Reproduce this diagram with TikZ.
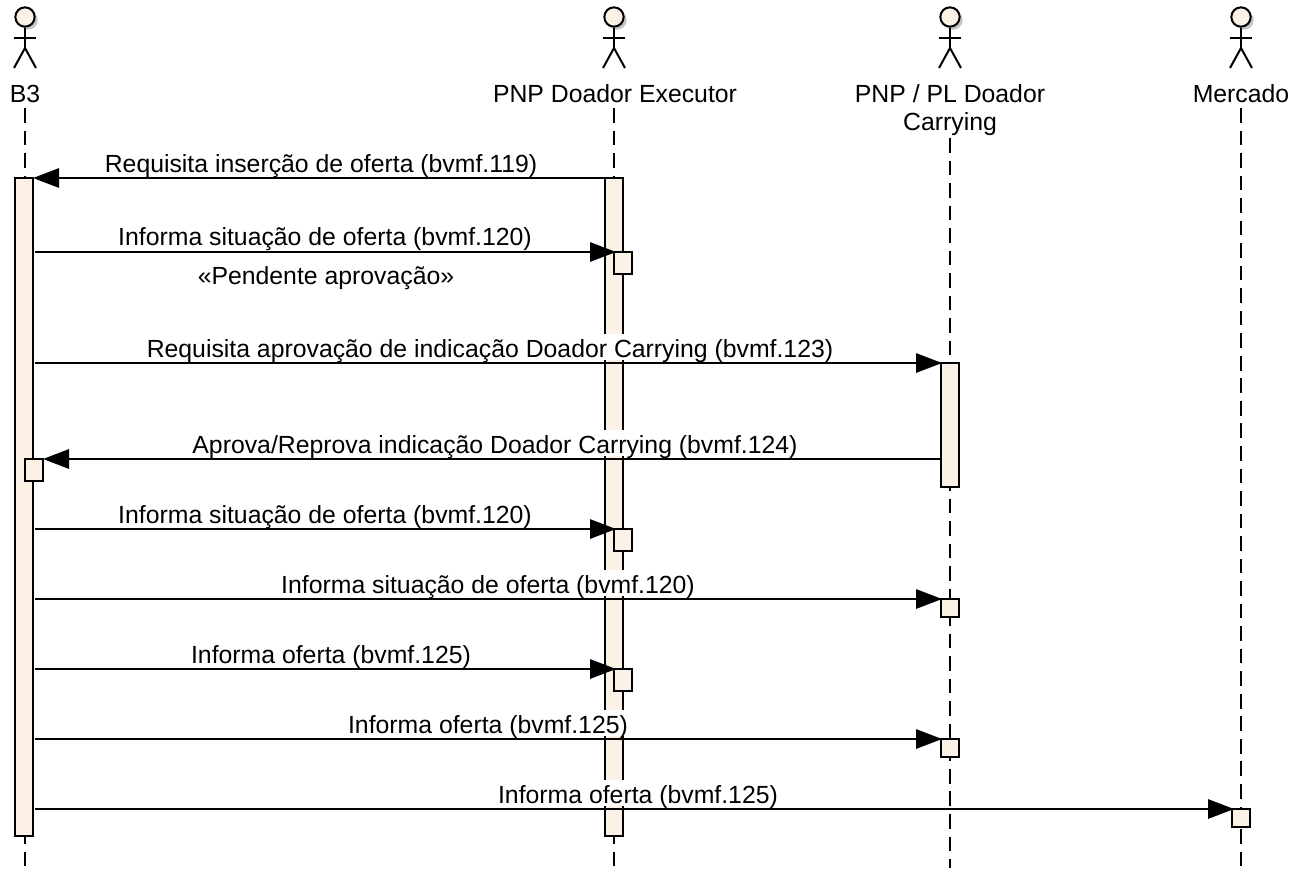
\documentclass[tikz,border=0pt]{standalone}
\usepackage{fontspec}
\setmainfont{Liberation Sans}
\usetikzlibrary{arrows.meta}
\definecolor{cream}{HTML}{FBF2E5}
\definecolor{shade}{HTML}{C4C4C4}
\tikzset{
  x=0.75pt,y=-0.75pt,
  every node/.style={font=\fontsize{18.6pt}{24pt}\selectfont,text=black},
  life/.style={line width=1.5pt,dash pattern=on 11pt off 5.9pt},
  bar/.style={draw=black,fill=cream,line width=1.5pt},
  msg/.style={line width=1.5pt,-{Triangle[length=19.5pt,width=14.5pt]}},
  lbl/.style={anchor=base,fill=white,inner xsep=0.5pt,inner ysep=0pt,text height=17pt,text depth=2.2pt},
  actorlbl/.style={anchor=base,inner sep=0pt},
  head/.style={circle,draw=black,fill=cream,line width=1.5pt,minimum size=14.5pt,inner sep=0pt},
  limb/.style={line width=1.5pt,draw=black},
  headshade/.style={circle,fill=shade,minimum size=14.5pt,inner sep=0pt},
}
\newcommand{\actor}[2]{%
  \node[headshade] (#2shade) at (#1+3,20) {};
  \node[head] (#2head) at (#1,17) {};
  \coordinate (#2hip) at (#1,48);
  \coordinate (#2al) at (#1-11,38);
  \coordinate (#2ar) at (#1+11,38);
  \coordinate (#2ll) at (#1-11,68);
  \coordinate (#2lr) at (#1+11,68);
  \draw[limb] (#2head) -- (#2hip);
  \draw[limb] (#2al) -- (#2ar);
  \draw[limb] (#2ll) -- (#2hip) -- (#2lr);
}
\begin{document}
\begin{tikzpicture}
\useasboundingbox (0,0) rectangle (1293,868);
\fill[white] (0,0) rectangle (1293,868);

% lifelines
\coordinate (ta) at (25,108);   \coordinate (ba) at (25,868);
\coordinate (tb) at (614,108);  \coordinate (bb) at (614,868);
\coordinate (tc) at (950,138);  \coordinate (bc) at (950,868);
\coordinate (td) at (1241,108); \coordinate (bd) at (1241,868);
\draw[life] (ta) -- (ba);
\draw[life] (tb) -- (bb);
\draw[life] (tc) -- (bc);
\draw[life] (td) -- (bd);

% actors
\actor{25}{a}
\actor{614}{b}
\actor{950}{c}
\actor{1241}{d}
\node[actorlbl] (la) at (25,102) {B3};
\node[actorlbl] (lb) at (615,102) {PNP Doador Executor};
\node[actorlbl] (lc1) at (950,102) {PNP / PL Doador};
\node[actorlbl] (lc2) at (950,130) {Carrying};
\node[actorlbl] (ld) at (1241,102) {Mercado};

% activation bars
\draw[bar] (15,178) rectangle (33,836);
\draw[bar] (605,178) rectangle (623,836);
\draw[bar] (941,363) rectangle (959,487);
\draw[bar] (25,459) rectangle (43,481);
\draw[bar] (614,252) rectangle (632,274);
\draw[bar] (614,529) rectangle (632,551);
\draw[bar] (614,669) rectangle (632,691);
\draw[bar] (941,599) rectangle (959,617);
\draw[bar] (941,739) rectangle (959,757);
\draw[bar] (1232,809) rectangle (1250,827);

% labels
\node[lbl] (m1) at (321,172) {Requisita inserção de oferta (bvmf.119)};
\node[lbl] (m2) at (325,245) {Informa situação de oferta (bvmf.120)};
\node[lbl] (m2s) at (326,284) {«Pendente aprovação»};
\node[lbl] (m3) at (490,357) {Requisita aprovação de indicação Doador Carrying (bvmf.123)};
\node[lbl] (m4) at (495,453) {Aprova/Reprova indicação Doador Carrying (bvmf.124)};
\node[lbl] (m5) at (325,523) {Informa situação de oferta (bvmf.120)};
\node[lbl] (m6) at (488,593) {Informa situação de oferta (bvmf.120)};
\node[lbl] (m7) at (331,663) {Informa oferta (bvmf.125)};
\node[lbl] (m8) at (488,733) {Informa oferta (bvmf.125)};
\node[lbl] (m9) at (638,803) {Informa oferta (bvmf.125)};

% message end points
\coordinate (s1) at (605,178); \coordinate (e1) at (33,178);
\coordinate (s2) at (35,252);  \coordinate (e2) at (616,252);
\coordinate (s3) at (35,363);  \coordinate (e3) at (942,363);
\coordinate (s4) at (941,459); \coordinate (e4) at (43,459);
\coordinate (s5) at (35,529);  \coordinate (e5) at (616,529);
\coordinate (s6) at (35,599);  \coordinate (e6) at (942,599);
\coordinate (s7) at (35,669);  \coordinate (e7) at (616,669);
\coordinate (s8) at (35,739);  \coordinate (e8) at (942,739);
\coordinate (s9) at (35,809);  \coordinate (e9) at (1234,809);
\draw[msg] (s1) -- (e1);
\draw[msg] (s2) -- (e2);
\draw[msg] (s3) -- (e3);
\draw[msg] (s4) -- (e4);
\draw[msg] (s5) -- (e5);
\draw[msg] (s6) -- (e6);
\draw[msg] (s7) -- (e7);
\draw[msg] (s8) -- (e8);
\draw[msg] (s9) -- (e9);
\end{tikzpicture}
\end{document}
